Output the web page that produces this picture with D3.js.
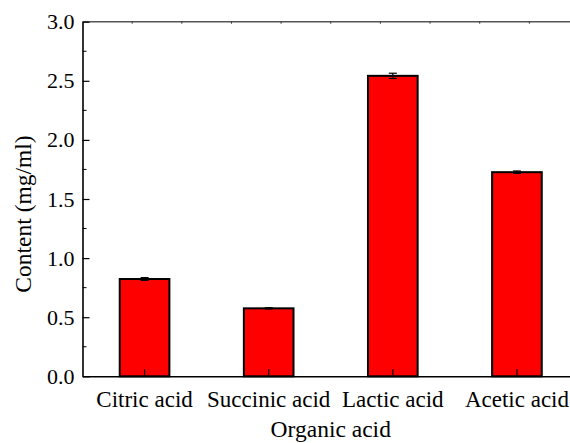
<!DOCTYPE html>
<html>
<head>
<meta charset="utf-8">
<script src="https://cdn.jsdelivr.net/npm/d3@7"></script>
<style>
  html, body { margin: 0; padding: 0; background: #fff; }
  svg { display: block; }
  text { font-family: "Liberation Serif", "Times New Roman", serif; fill: #000; }
</style>
</head>
<body>
<svg id="chart" width="570" height="443"></svg>
<script>
// Organic acid content
const categories = ["Citric acid", "Succinic acid", "Lactic acid", "Acetic acid"];
const contents   = [0.823, 0.575, 2.542, 1.727];
const errors     = [0.012, 0.005, 0.022, 0.010];
const yTicks     = [0.0, 0.5, 1.0, 1.5, 2.0, 2.5, 3.0];

const width = 570, height = 443;
const margin = { left: 82.5, top: 21.7, right: -9, bottom: 66.7 };
const plotW = width - margin.left - margin.right;
const plotH = height - margin.top - margin.bottom;
const serif = "'Liberation Serif', 'Times New Roman', serif";

const svg = d3.select("#chart");
const g = svg.append("g").attr("transform", `translate(${margin.left},${margin.top})`);

const x = d3.scaleBand().domain(categories).range([0, plotW]).paddingInner(0).paddingOuter(0);
const y = d3.scaleLinear().domain([0, 3]).range([plotH, 0]);
const barW = x.bandwidth() * 0.4;

// top frame line with small inward ticks
const xTop = d3.scaleLinear().domain([0, 10]).range([0, plotW]);
g.append("line").attr("x1", 0).attr("x2", plotW).attr("y1", 0).attr("y2", 0)
  .attr("stroke", "#555").attr("stroke-width", 1.4);
g.selectAll(".ttick").data(d3.range(1, 10)).join("line")
  .attr("x1", d => xTop(d)).attr("x2", d => xTop(d))
  .attr("y1", 0).attr("y2", 2)
  .attr("stroke", "#333").attr("stroke-width", 1);

// bars
g.selectAll(".bar").data(categories).join("rect")
  .attr("x", d => x(d) + x.bandwidth() / 2 - barW / 2)
  .attr("y", (d, i) => y(contents[i]))
  .attr("width", barW)
  .attr("height", (d, i) => y(0) - y(contents[i]))
  .attr("fill", "#ff0000")
  .attr("stroke", "#000")
  .attr("stroke-width", 2);

// error bars
const eb = g.selectAll(".err").data(categories).join("g")
  .attr("transform", d => `translate(${x(d) + x.bandwidth() / 2},0)`);
eb.append("line")
  .attr("y1", (d, i) => y(contents[i] + errors[i]))
  .attr("y2", (d, i) => y(contents[i] - errors[i]))
  .attr("stroke", "#000").attr("stroke-width", 1.2);
eb.append("line").attr("x1", -4).attr("x2", 4)
  .attr("y1", (d, i) => y(contents[i] + errors[i]))
  .attr("y2", (d, i) => y(contents[i] + errors[i]))
  .attr("stroke", "#000").attr("stroke-width", 1.2);
eb.append("line").attr("x1", -4).attr("x2", 4)
  .attr("y1", (d, i) => y(contents[i] - errors[i]))
  .attr("y2", (d, i) => y(contents[i] - errors[i]))
  .attr("stroke", "#000").attr("stroke-width", 1.2);

// bottom axis: ticks pointing inward at bar centres
const xAxis = g.append("g").attr("transform", `translate(0,${plotH})`)
  .call(d3.axisBottom(x).tickSize(-7).tickSizeOuter(0).tickPadding(14));
xAxis.select(".domain").attr("stroke", "#000").attr("stroke-width", 1.6);
xAxis.selectAll(".tick line").attr("stroke", "#000").attr("stroke-width", 1.2);
xAxis.selectAll(".tick text").attr("font-size", 23).attr("dy", "0.71em")
  .style("font-family", serif).attr("fill", "#000");

// left axis: major ticks inward, minor ticks in between
const minor = d3.range(0.25, 3, 0.5);
g.selectAll(".minor").data(minor).join("line")
  .attr("x1", 0).attr("x2", 4)
  .attr("y1", d => y(d)).attr("y2", d => y(d))
  .attr("stroke", "#000").attr("stroke-width", 1);
const yAxis = g.append("g")
  .call(d3.axisLeft(y).tickValues(yTicks).tickFormat(d3.format(".1f")).tickSize(-7).tickSizeOuter(0).tickPadding(8));
yAxis.select(".domain").attr("stroke", "#000").attr("stroke-width", 1.6);
yAxis.selectAll(".tick line").attr("stroke", "#000").attr("stroke-width", 1.2);
yAxis.selectAll(".tick text").attr("font-size", 22)
  .style("font-family", serif).attr("fill", "#000");

// axis titles
svg.append("text")
  .attr("x", margin.left + plotW / 2).attr("y", 437)
  .attr("text-anchor", "middle").attr("font-size", 23.5)
  .text("Organic acid");
svg.append("text")
  .attr("transform", "translate(31,214) rotate(-90)")
  .attr("text-anchor", "middle").attr("font-size", 23.5)
  .text("Content (mg/ml)");
</script>
</body>
</html>
